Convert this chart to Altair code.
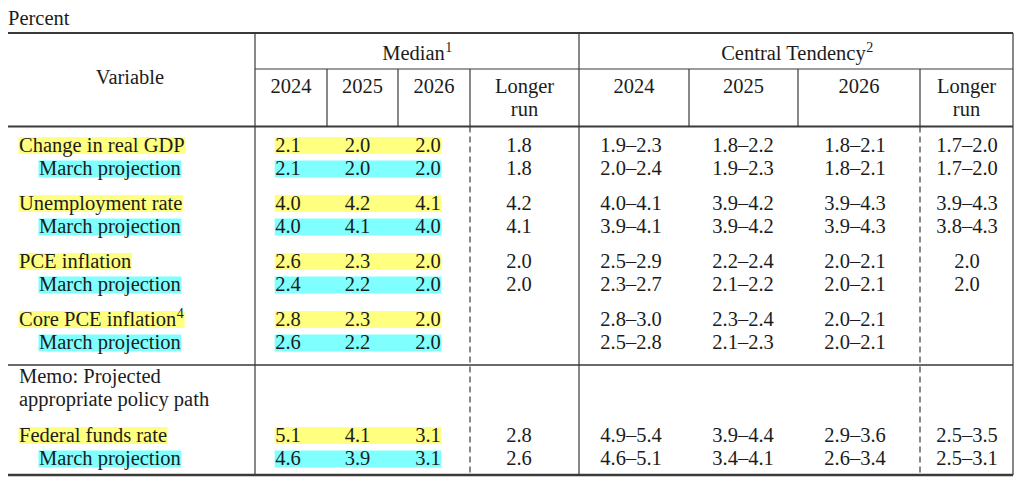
import altair as alt
import pandas as pd

# ---------------- data ----------------
title_text = "Percent"
group_median = ("Median", "1")
group_central = ("Central Tendency", "2")
variable_header = "Variable"
year_headers = ["2024", "2025", "2026"]
longer_header = ["Longer", "run"]
memo_lines = ["Memo: Projected", "appropriate policy path"]

variables = ["Change in real GDP", "Unemployment rate", "PCE inflation",
             "Core PCE inflation", "Federal funds rate"]
variable_notes = ["", "", "", "4", ""]
march_label = "March projection"

median_2024 = [2.1, 4.0, 2.6, 2.8, 5.1]
median_2025 = [2.0, 4.2, 2.3, 2.3, 4.1]
median_2026 = [2.0, 4.1, 2.0, 2.0, 3.1]
median_longer = [1.8, 4.2, 2.0, None, 2.8]

march_2024 = [2.1, 4.0, 2.4, 2.6, 4.6]
march_2025 = [2.0, 4.1, 2.2, 2.2, 3.9]
march_2026 = [2.0, 4.0, 2.0, 2.0, 3.1]
march_longer = [1.8, 4.1, 2.0, None, 2.6]

ct_2024 = ["1.9–2.3", "4.0–4.1", "2.5–2.9", "2.8–3.0", "4.9–5.4"]
ct_2025 = ["1.8–2.2", "3.9–4.2", "2.2–2.4", "2.3–2.4", "3.9–4.4"]
ct_2026 = ["1.8–2.1", "3.9–4.3", "2.0–2.1", "2.0–2.1", "2.9–3.6"]
ct_longer = ["1.7–2.0", "3.9–4.3", "2.0", "", "2.5–3.5"]

ct_march_2024 = ["2.0–2.4", "3.9–4.1", "2.3–2.7", "2.5–2.8", "4.6–5.1"]
ct_march_2025 = ["1.9–2.3", "3.9–4.2", "2.1–2.2", "2.1–2.3", "3.4–4.1"]
ct_march_2026 = ["1.8–2.1", "3.9–4.3", "2.0–2.1", "2.0–2.1", "2.6–3.4"]
ct_march_longer = ["1.7–2.0", "3.8–4.3", "2.0", "", "2.5–3.1"]

# ---------------- layout ----------------
FONT = "Liberation Serif"
FS = 20.5
SUP_FS = 14
SUP_RAISE = 8
TEXT_COLOR = "#1c1c1c"
LINE_COLOR = "#3a3a3a"
YELLOW = "#FFFF80"
CYAN = "#80FFFF"

# Times/Liberation Serif advance widths (per 1000 em) for box sizing
TW = {" ": 250, "a": 444, "b": 500, "c": 444, "d": 500, "e": 444, "f": 333, "g": 500,
      "h": 500, "i": 278, "j": 278, "k": 500, "l": 278, "m": 778, "n": 500, "o": 500,
      "p": 500, "q": 500, "r": 333, "s": 389, "t": 278, "u": 500, "v": 500, "w": 722,
      "x": 500, "y": 500, "z": 444, "C": 667, "D": 722, "E": 611, "F": 556, "G": 722,
      "M": 889, "P": 556, "T": 611, "U": 722, ".": 250, ":": 278, "–": 500}


def tw(s, fs=FS):
    return sum(TW.get(c, 500) for c in s) * fs / 1000.0


LEFT_MAIN, LEFT_SUB = 19, 39
MED_X = [288, 357.5, 428]
MED_LONG_X = 519
CT_X = [631, 743, 855, 967]
HDR_MED_X = [291, 362.5, 434, 524.5]
HDR_CT_X = [634, 743.5, 859, 966.5]
ROW_GROUP = [0, 1, 2, 3, 5]


def baseline(g, s):
    return 151.5 + 58 * g + 23.5 * s


left_rows, right_rows, center_rows, sup_rows, boxes = [], [], [], [], []

# header texts
left_rows.append(dict(x=8, y=24.5, t=title_text))
center_rows.append(dict(x=130, y=84, t=variable_header))
for (main, note), cx in ((group_median, 417), (group_central, 796)):
    w, ws = tw(main), tw(note, SUP_FS)
    x_end = cx + (w + ws) / 2 - ws
    right_rows.append(dict(x=x_end, y=59.5, t=main))
    sup_rows.append(dict(x=x_end + 0.5, y=59.5 - SUP_RAISE, t=note))
for hx in (HDR_MED_X, HDR_CT_X):
    for k, yr in enumerate(year_headers):
        center_rows.append(dict(x=hx[k], y=93, t=yr))
    center_rows.append(dict(x=hx[3], y=93, t=longer_header[0]))
    center_rows.append(dict(x=hx[3], y=115.5, t=longer_header[1]))

# memo
left_rows.append(dict(x=LEFT_MAIN, y=383, t=memo_lines[0]))
left_rows.append(dict(x=LEFT_MAIN, y=406, t=memo_lines[1]))


def fmt(v):
    return "" if v is None else f"{v:.1f}"


for i, var in enumerate(variables):
    g = ROW_GROUP[i]
    for s, (lab, note, lx, col, meds, lng, cts) in enumerate([
        (var, variable_notes[i], LEFT_MAIN, YELLOW,
         [median_2024[i], median_2025[i], median_2026[i]], median_longer[i],
         [ct_2024[i], ct_2025[i], ct_2026[i], ct_longer[i]]),
        (march_label, "", LEFT_SUB, CYAN,
         [march_2024[i], march_2025[i], march_2026[i]], march_longer[i],
         [ct_march_2024[i], ct_march_2025[i], ct_march_2026[i], ct_march_longer[i]]),
    ]):
        yb = baseline(g, s)
        left_rows.append(dict(x=lx, y=yb, t=lab))
        w = tw(lab)
        if note:
            sup_rows.append(dict(x=lx + w + 0.5, y=yb - SUP_RAISE, t=note))
            w += tw(note, SUP_FS) + 1
        boxes.append(dict(x=lx - 0.5, x2=lx + w + 0.5, y=yb - 14.5, y2=yb + 2.5, c=col))
        mtxt = [fmt(v) for v in meds]
        for k, t in enumerate(mtxt):
            center_rows.append(dict(x=MED_X[k], y=yb, t=t))
        boxes.append(dict(x=MED_X[0] - tw(mtxt[0]) / 2 - 0.5,
                          x2=MED_X[2] + tw(mtxt[2]) / 2 + 0.5,
                          y=yb - 14.5, y2=yb + 2.5, c=col))
        if lng is not None:
            center_rows.append(dict(x=MED_LONG_X, y=yb, t=fmt(lng)))
        for k, t in enumerate(cts):
            if t:
                center_rows.append(dict(x=CT_X[k], y=yb, t=t))

# rules: (x, y, x2, y2, width)
solid = [
    (5, 33, 1013, 33, 2.0),
    (255, 69, 1013, 69, 1.2),
    (5, 126.5, 1013, 126.5, 2.2),
    (5, 365, 1013, 365, 1.3),
    (5, 475, 1013, 475, 2.6),
    (255, 33, 255, 475, 1.2),
    (579, 33, 579, 475, 1.2),
    (1013, 33, 1013, 475, 1.2),
]
for xv in (327, 398, 470, 689, 798, 920):
    solid.append((xv, 69, xv, 126.5, 1.2))
dashed = [(470, 126.5, 470, 475, 1.2), (920, 126.5, 920, 475, 1.2)]

solid_df = pd.DataFrame(solid, columns=["x", "y", "x2", "y2", "w"])
dashed_df = pd.DataFrame(dashed, columns=["x", "y", "x2", "y2", "w"])
box_df = pd.DataFrame(boxes)
left_df = pd.DataFrame(left_rows)
right_df = pd.DataFrame(right_rows)
center_df = pd.DataFrame(center_rows)
sup_df = pd.DataFrame(sup_rows)

W, H = 1008, 477
xs = alt.Scale(domain=[8, 8 + W], nice=False, zero=False)
ys = alt.Scale(domain=[8, 8 + H], nice=False, zero=False, reverse=True)


def pos():
    return dict(x=alt.X("x:Q", scale=xs, axis=None), y=alt.Y("y:Q", scale=ys, axis=None))


def text_layer(df, align, size):
    return alt.Chart(df).mark_text(
        align=align, baseline="alphabetic", font=FONT, fontSize=size, color=TEXT_COLOR
    ).encode(text="t:N", **pos())


box_layer = alt.Chart(box_df).mark_rect().encode(
    x2="x2:Q", y2="y2:Q", color=alt.Color("c:N", scale=None), **pos()
)
solid_layer = alt.Chart(solid_df).mark_rule(color=LINE_COLOR).encode(
    x2="x2:Q", y2="y2:Q", strokeWidth=alt.StrokeWidth("w:Q", scale=None), **pos()
)
dashed_layer = alt.Chart(dashed_df).mark_rule(color=LINE_COLOR, strokeDash=[6, 4]).encode(
    x2="x2:Q", y2="y2:Q", strokeWidth=alt.StrokeWidth("w:Q", scale=None), **pos()
)

chart = alt.layer(
    box_layer, solid_layer, dashed_layer,
    text_layer(left_df, "left", FS),
    text_layer(right_df, "right", FS),
    text_layer(center_df, "center", FS),
    text_layer(sup_df, "left", SUP_FS),
).properties(
    width=W, height=H,
    autosize=alt.AutoSizeParams(type="none"),
    padding=0,
    background="white",
).configure_view(stroke=None)

chart.save("out.html", embed_options={"renderer": "svg", "actions": False})
